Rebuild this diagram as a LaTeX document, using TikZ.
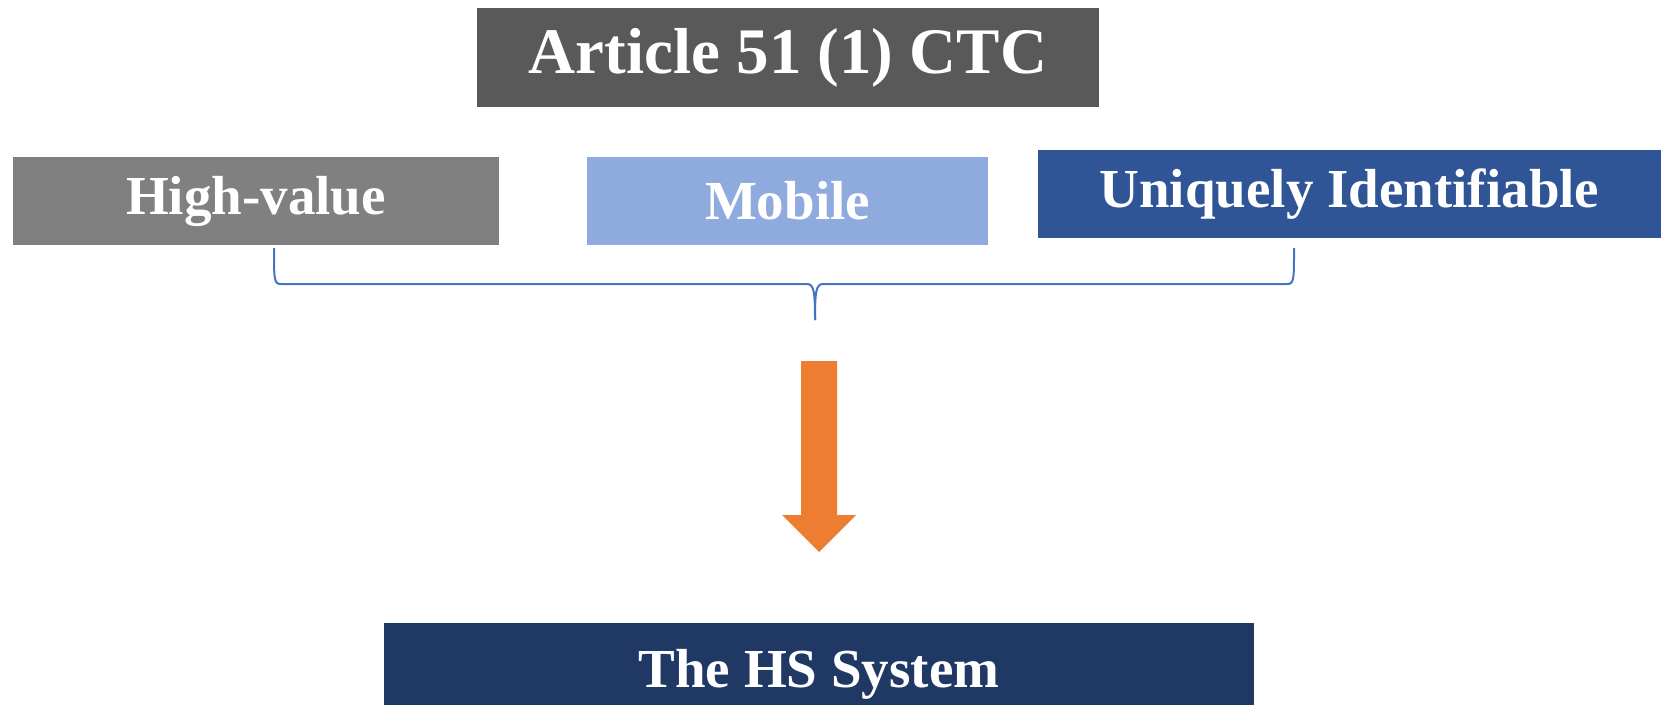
\documentclass[tikz,border=0pt]{standalone}
\usepackage{fontspec}
\setmainfont{Liberation Serif}
\usepackage{xcolor}
\usetikzlibrary{positioning}

\definecolor{titlegray}{HTML}{595959}
\definecolor{valuegray}{HTML}{808080}
\definecolor{mobileblue}{HTML}{8FAADC}
\definecolor{uniqueblue}{HTML}{2F5597}
\definecolor{hsnavy}{HTML}{203864}
\definecolor{bracecol}{HTML}{4472C4}
\definecolor{arroworange}{HTML}{ED7D31}

\tikzset{
  box/.style={rectangle, inner sep=0pt, text=white, font=\bfseries\fontsize{55}{60}\selectfont},
}

\begin{document}
\begin{tikzpicture}[x=1pt, y=-1pt]
                \useasboundingbox (0, 0) rectangle (1661, 704);

                \node[box, fill=titlegray, minimum width=622pt, minimum height=99pt, font=\bfseries\fontsize{65}{70}\selectfont] (art) at (788, 57.5) {Article 51 (1) CTC};

                \node[box, fill=valuegray, minimum width=486pt, minimum height=88pt] (high) at (256, 201) {High-value};
                \node[box, fill=mobileblue, minimum width=401pt, minimum height=88pt] (mob) at (787.5, 201) {Mobile};
                \node[box, fill=uniqueblue, minimum width=623pt, minimum height=87.5pt] (uniq) at (1349.5, 194) {Uniquely Identifiable};

                % runs past the lower edge of the page
                \node[box, fill=hsnavy, minimum width=870pt, minimum height=103pt] (hs) at (819, 674.5) {The HS System};

                % brace under the three properties
                \coordinate (bl) at (274, 248);
                \coordinate (br) at (1294, 248);
                \coordinate (bt) at (815, 320);
                \draw[bracecol, line width=2pt] (bl) .. controls (274, 280) and (274, 284) .. (281, 284) -- (807, 284) .. controls (814, 284) and (815, 292) .. (bt);
                \draw[bracecol, line width=2pt] (br) .. controls (1294, 280) and (1294, 284) .. (1287, 284) -- (823, 284) .. controls (816, 284) and (815, 292) .. (bt);

                % block arrow
                \fill[arroworange] (801, 361) -- (837, 361) -- (837, 515) -- (856, 515) -- (819, 552) -- (782, 515) -- (801, 515) -- cycle;
            \end{tikzpicture}
\end{document}
